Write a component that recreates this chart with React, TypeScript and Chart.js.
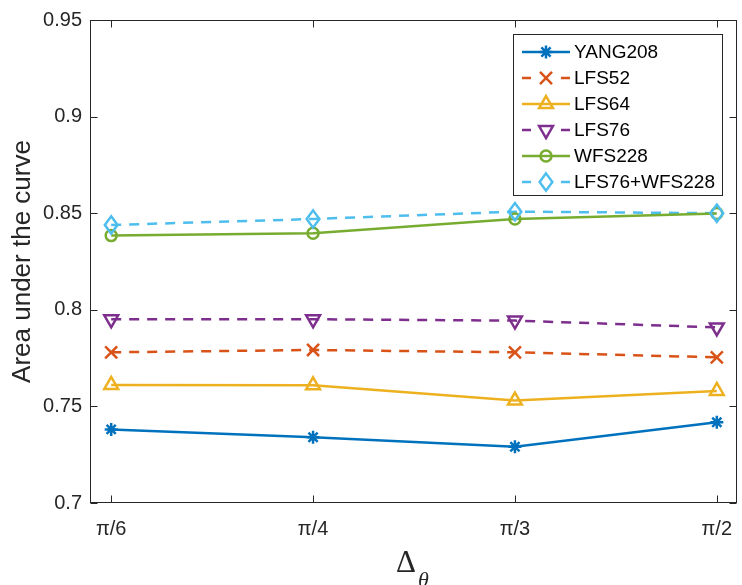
import React, { useEffect, useRef } from 'react';
import { Chart, registerables } from 'chart.js';

Chart.register(...registerables);

// ---- data ----
const xTickLabels = ['π/6', 'π/4', 'π/3', 'π/2'];
const xPositions = [1, 2, 3, 4];
const yTickValues = [0.7, 0.75, 0.8, 0.85, 0.9, 0.95];
const yTickLabels = ['0.7', '0.75', '0.8', '0.85', '0.9', '0.95'];
const seriesNames = ['YANG208', 'LFS52', 'LFS64', 'LFS76', 'WFS228', 'LFS76+WFS228'];
const yang208 = [0.7381, 0.734, 0.7291, 0.7418];
const lfs52 = [0.778, 0.7792, 0.778, 0.7754];
const lfs64 = [0.7611, 0.7609, 0.753, 0.758];
const lfs76 = [0.7951, 0.7951, 0.7944, 0.7909];
const wfs228 = [0.8384, 0.8396, 0.847, 0.8499];
const lfs76wfs228 = [0.8439, 0.847, 0.8508, 0.85];
const yTitle = 'Area under the curve';
const xTitleMain = 'Δ';
const xTitleSub = 'θ';

// ---- styles ----
const seriesValues = [yang208, lfs52, lfs64, lfs76, wfs228, lfs76wfs228];
const colors = ['#0072BD', '#D95319', '#EDB120', '#7E2F8E', '#77AC30', '#4DBEEE'];
const markers = ['star', 'crossRot', 'triangle', 'triangleDown', 'circle', 'diamond'];
const radii = [6.5, 8.5, 8, 8, 5.5, 7.5];
const dashed = [false, true, false, true, false, true];
const axisColor = '#262626';
const fontFamily = '"Liberation Sans", Arial, Helvetica, sans-serif';
const lineW = 2.5;

function drawMarker(ctx: CanvasRenderingContext2D, kind: string, x: number, y: number, r: number) {
  ctx.beginPath();
  const s3 = Math.sqrt(3) / 2;
  switch (kind) {
    case 'star': {
      const d = r * Math.SQRT1_2;
      ctx.moveTo(x - r, y); ctx.lineTo(x + r, y);
      ctx.moveTo(x, y - r); ctx.lineTo(x, y + r);
      ctx.moveTo(x - d, y - d); ctx.lineTo(x + d, y + d);
      ctx.moveTo(x - d, y + d); ctx.lineTo(x + d, y - d);
      break;
    }
    case 'crossRot': {
      const d = r * Math.SQRT1_2;
      ctx.moveTo(x - d, y - d); ctx.lineTo(x + d, y + d);
      ctx.moveTo(x - d, y + d); ctx.lineTo(x + d, y - d);
      break;
    }
    case 'triangle':
      ctx.moveTo(x, y - r); ctx.lineTo(x + r * s3, y + r / 2); ctx.lineTo(x - r * s3, y + r / 2); ctx.closePath();
      break;
    case 'triangleDown':
      ctx.moveTo(x, y + r); ctx.lineTo(x + r * s3, y - r / 2); ctx.lineTo(x - r * s3, y - r / 2); ctx.closePath();
      break;
    case 'circle':
      ctx.arc(x, y, r, 0, Math.PI * 2);
      break;
    case 'diamond':
      ctx.moveTo(x, y - r * 1.15); ctx.lineTo(x + r * 0.85, y); ctx.lineTo(x, y + r * 1.15); ctx.lineTo(x - r * 0.85, y); ctx.closePath();
      break;
  }
  ctx.stroke();
}

const markerPlugin = {
  id: 'customMarkers',
  afterDatasetsDraw(chart: any) {
    const ctx = chart.ctx as CanvasRenderingContext2D;
    ctx.save();
    chart.data.datasets.forEach((ds: any, i: number) => {
      const meta = chart.getDatasetMeta(i);
      ctx.strokeStyle = colors[i];
      ctx.lineWidth = lineW;
      ctx.setLineDash([]);
      meta.data.forEach((pt: any) => drawMarker(ctx, markers[i], pt.x, pt.y, radii[i]));
    });
    ctx.restore();
  },
};

const boxPlugin = {
  id: 'matlabBox',
  afterDraw(chart: any) {
    const ctx = chart.ctx as CanvasRenderingContext2D;
    const { left, right, top, bottom } = chart.chartArea;
    const xs = chart.scales.x;
    const ys = chart.scales.y;
    ctx.save();
    ctx.strokeStyle = axisColor;
    ctx.lineWidth = 1;
    ctx.setLineDash([]);
    const L = Math.round(left) - 0.5, R = Math.round(right) - 0.5, T = Math.round(top) + 0.5, B = Math.round(bottom) - 0.5;
    ctx.strokeRect(L, T, R - L, B - T);
    const tl = 7;
    ctx.beginPath();
    xPositions.forEach((v) => {
      const px = Math.round(xs.getPixelForValue(v)) + 0.5;
      ctx.moveTo(px, B); ctx.lineTo(px, B - tl);
      ctx.moveTo(px, T); ctx.lineTo(px, T + tl);
    });
    yTickValues.forEach((v) => {
      const py = Math.round(ys.getPixelForValue(v)) + 0.5;
      ctx.moveTo(L, py); ctx.lineTo(L + tl, py);
      ctx.moveTo(R, py); ctx.lineTo(R - tl, py);
    });
    ctx.stroke();

    // x axis title (Δ with subscript θ)
    ctx.fillStyle = axisColor;
    ctx.textBaseline = 'alphabetic';
    ctx.textAlign = 'left';
    ctx.font = '31px "Liberation Serif", "Times New Roman", serif';
    ctx.fillText(xTitleMain, 396, 572);
    const wMain = ctx.measureText(xTitleMain).width;
    ctx.font = 'italic 22px "Liberation Serif", "Times New Roman", serif';
    ctx.fillText(xTitleSub, 396 + wMain + 2, 587);

    // legend
    const lx = 513.5, ly = 34.5, lw = 209, lh = 161;
    ctx.fillStyle = '#ffffff';
    ctx.fillRect(lx, ly, lw, lh);
    ctx.strokeStyle = axisColor;
    ctx.lineWidth = 1;
    ctx.strokeRect(lx, ly, lw, lh);
    ctx.font = '19px ' + fontFamily;
    ctx.textBaseline = 'middle';
    seriesNames.forEach((name, i) => {
      const yy = 52 + i * 26;
      ctx.strokeStyle = colors[i];
      ctx.lineWidth = lineW;
      ctx.beginPath();
      if (dashed[i]) {
        ctx.moveTo(522, yy); ctx.lineTo(531, yy);
        ctx.moveTo(561, yy); ctx.lineTo(570, yy);
      } else {
        ctx.moveTo(522, yy); ctx.lineTo(570, yy);
      }
      ctx.stroke();
      drawMarker(ctx, markers[i], 546, yy, radii[i]);
      ctx.fillStyle = '#000000';
      ctx.fillText(name, 574, yy + 1);
    });
    ctx.restore();
  },
};

export default function App() {
  const canvasRef = useRef<HTMLCanvasElement | null>(null);

  useEffect(() => {
    const canvas = canvasRef.current;
    if (!canvas) return;
    const datasets = seriesNames.map((name, i) => ({
      label: name,
      data: seriesValues[i].map((v, j) => ({ x: xPositions[j], y: v })),
      borderColor: colors[i],
      backgroundColor: colors[i],
      borderWidth: lineW,
      borderDash: dashed[i] ? [10, 8] : [],
      pointRadius: 0,
      pointHoverRadius: 0,
      fill: false,
      tension: 0,
    }));
    const chart = new Chart(canvas, {
      type: 'line',
      data: { datasets },
      options: {
        animation: false,
        responsive: false,
        maintainAspectRatio: false,
        events: [],
        layout: { padding: { top: 20, right: 5, left: 0, bottom: 0 } },
        plugins: { legend: { display: false }, tooltip: { enabled: false } },
        scales: {
          x: {
            type: 'linear',
            min: 0.9,
            max: 4.1,
            afterBuildTicks: (s: any) => { s.ticks = xPositions.map((v) => ({ value: v })); },
            afterFit: (s: any) => { s.height = 82; s.paddingLeft = 0; s.paddingRight = 0; },
            grid: { display: false, drawTicks: false },
            border: { display: false },
            ticks: {
              autoSkip: false,
              maxRotation: 0,
              padding: 14,
              color: axisColor,
              font: { family: fontFamily, size: 20 },
              callback: (v: any) => xTickLabels[xPositions.indexOf(Number(v))] ?? '',
            },
          },
          y: {
            type: 'linear',
            min: 0.7,
            max: 0.95,
            afterBuildTicks: (s: any) => { s.ticks = yTickValues.map((v) => ({ value: v })); },
            afterFit: (s: any) => { s.width = 91; s.paddingTop = 0; s.paddingBottom = 0; },
            grid: { display: false, drawTicks: false },
            border: { display: false },
            title: {
              display: true,
              text: yTitle,
              color: axisColor,
              font: { family: fontFamily, size: 26 },
              padding: { top: 7, bottom: 0 },
            },
            ticks: {
              padding: 9,
              color: axisColor,
              font: { family: fontFamily, size: 20 },
              callback: (v: any) => yTickLabels[yTickValues.indexOf(Number(v))] ?? '',
            },
          },
        },
      },
      plugins: [markerPlugin, boxPlugin],
    } as any);
    return () => chart.destroy();
  }, []);

  return (
    <div style={{ position: 'absolute', left: 0, top: 0, width: 742, height: 585, background: '#fff' }}>
      <canvas ref={canvasRef} width={742} height={585} style={{ display: 'block' }} />
    </div>
  );
}
